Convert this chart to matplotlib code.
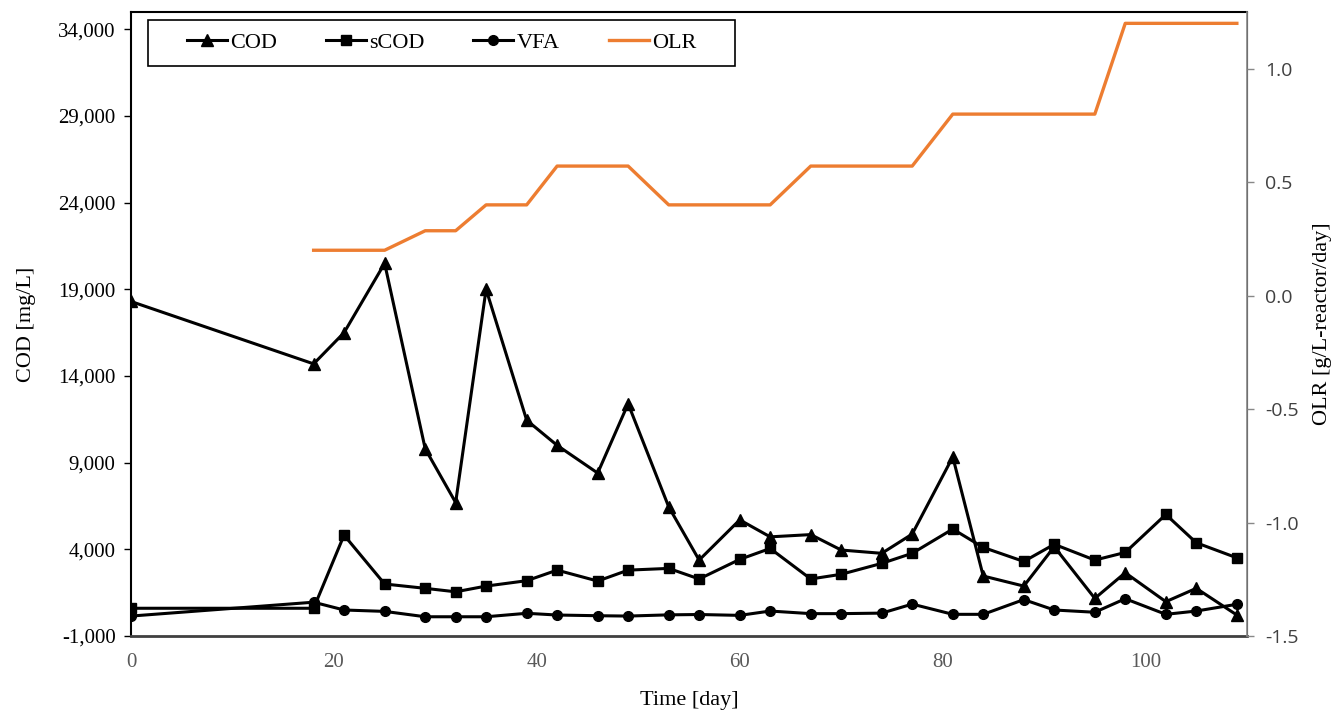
import matplotlib
matplotlib.use("Agg")
import matplotlib.pyplot as plt
from matplotlib.patches import Rectangle
from matplotlib.ticker import FuncFormatter

# sampling days
days = [0, 18, 21, 25, 29, 32, 35, 39, 42, 46, 49, 53, 56, 60, 63, 67, 70, 74,
        77, 81, 84, 88, 91, 95, 98, 102, 105, 109]

# mg/L
cod = [18300, 14700, 16500, 20500, 9800, 6700, 19000, 11450, 10000, 8400,
       12400, 6450, 3380, 5700, 4720, 4850, 3960, 3770, 4880, 9330, 2460,
       1880, 4150, 1170, 2650, 980, 1750, 210]
scod = [600, 600, 4820, 2000, 1750, 1550, 1880, 2190, 2800, 2170, 2800, 2900,
        2290, 3420, 4050, 2290, 2560, 3190, 3770, 5170, 4110, 3300, 4290, 3380,
        3820, 6010, 4380, 3510]
vfa = [150, 950, 500, 420, 110, 110, 110, 310, 210, 170, 150, 220, 240, 190,
       440, 290, 290, 320, 840, 250, 250, 1100, 500, 370, 1150, 250, 440, 830]

# OLR steps, g/L-reactor/day
olr_days = [18, 25, 29, 32, 35, 39, 42, 49, 53, 63, 67, 77, 81, 95, 98, 109]
olr = [0.2, 0.2, 0.286, 0.286, 0.4, 0.4, 0.571, 0.571, 0.4, 0.4, 0.571, 0.571,
       0.8, 0.8, 1.2, 1.2]

serif = "Liberation Serif"
W, H = 1336, 716

fig = plt.figure(figsize=(W / 100, H / 100), dpi=100)
ax = fig.add_axes([131 / W, 80 / H, 1116 / W, 624 / H])
ax2 = ax.twinx()

l1, = ax.plot(days, cod, "-^", color="black", lw=2.2, ms=8, label="COD")
l2, = ax.plot(days, scod, "-s", color="black", lw=2.2, ms=7, label="sCOD")
l3, = ax.plot(days, vfa, "-o", color="black", lw=2.2, ms=7, label="VFA")
l4, = ax2.plot(olr_days, olr, "-", color="#ED7D31", lw=2.4, label="OLR")

ax.set_xlim(0, 110)
ax.set_ylim(-1000, 35000)
ax.set_yticks(range(-1000, 34001, 5000))
ax.yaxis.set_major_formatter(FuncFormatter(lambda v, p: f"{int(v):,}"))
ax2.set_ylim(-1.5, 1.25)
ax2.set_yticks([-1.5, -1.0, -0.5, 0.0, 0.5, 1.0])
ax2.yaxis.set_major_formatter(FuncFormatter(lambda v, p: f"{v:.1f}"))
ax.set_xticks([0, 20, 40, 60, 80, 100])

ax.tick_params(axis="y", labelsize=15, length=5, width=1, color="black", pad=6)
ax.tick_params(axis="x", labelsize=15, length=0, pad=12, labelcolor="#595959")
ax2.tick_params(axis="y", labelsize=14, length=5, width=1, color="#888888",
                labelcolor="#404040", pad=8)
for lab in ax.get_yticklabels() + ax.get_xticklabels():
    lab.set_fontfamily(serif)
for lab in ax2.get_yticklabels():
    lab.set_fontfamily("Open Sans")

for side in ["left", "top"]:
    ax.spines[side].set_color("black")
    ax.spines[side].set_linewidth(1.5)
ax.spines["bottom"].set_color("#404040")
ax.spines["bottom"].set_linewidth(2)
ax2.spines["right"].set_color("#888888")
ax2.spines["right"].set_linewidth(1.2)
ax2.spines["top"].set_visible(False)
ax2.spines["left"].set_visible(False)
ax2.spines["bottom"].set_visible(False)

ax.set_xlabel("Time [day]", fontsize=16, family=serif, labelpad=14)
ax.set_ylabel("COD [mg/L]", fontsize=16, family=serif, labelpad=16)
ax2.set_ylabel("OLR [g/L-reactor/day]", fontsize=16, family=serif, labelpad=10)

# legend box like the Excel one, entries centred inside it
box_x0, box_x1, box_y0, box_y1 = 148, 735, H - 66, H - 20
fig.patches.append(Rectangle((box_x0 / W, box_y0 / H), (box_x1 - box_x0) / W,
                             (box_y1 - box_y0) / H, transform=fig.transFigure,
                             fill=True, facecolor="white", edgecolor="black",
                             lw=1.2, zorder=5))
leg = fig.legend(handles=[l1, l2, l3, l4], loc="center", ncol=4,
                 bbox_to_anchor=((box_x0 + box_x1) / 2 / W, (box_y0 + box_y1) / 2 / H),
                 prop={"family": serif, "size": 16}, frameon=False,
                 handlelength=1.8, handletextpad=0.15, columnspacing=2.2)
leg.set_zorder(6)

fig.savefig("out.png", dpi=100)
